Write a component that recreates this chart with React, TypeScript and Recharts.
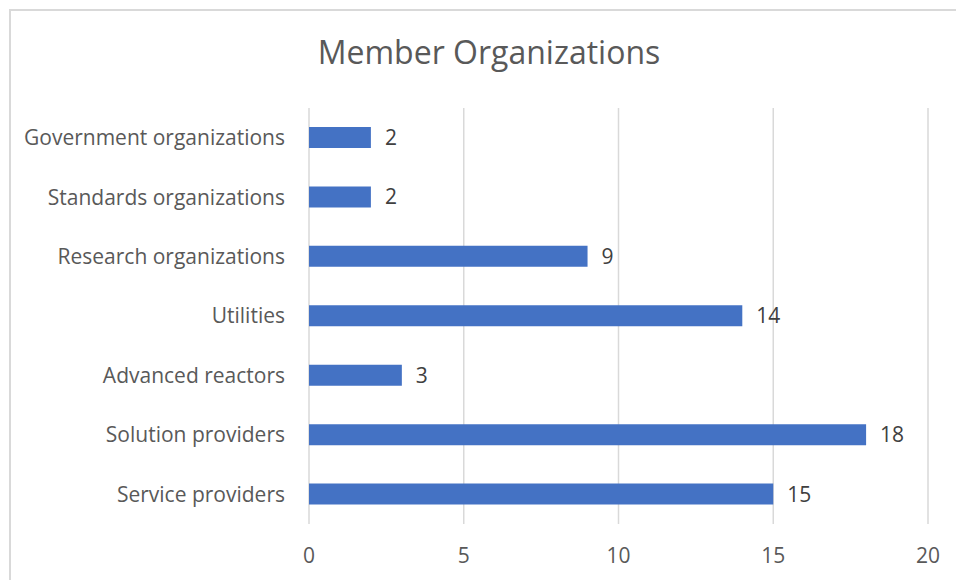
import { BarChart, Bar, XAxis, YAxis, CartesianGrid, LabelList } from 'recharts'

const categories = [
  'Government organizations',
  'Standards organizations',
  'Research organizations',
  'Utilities',
  'Advanced reactors',
  'Solution providers',
  'Service providers',
]
const members = [2, 2, 9, 14, 3, 18, 15]
const xTicks = [0, 5, 10, 15, 20]

const data = categories.map((name, i) => ({ name, value: members[i] }))

const FONT = '"Open Sans", sans-serif'

export default function App() {
  return (
    <div
      style={{
        position: 'fixed',
        left: 0,
        top: 0,
        width: 956,
        height: 580,
        overflow: 'hidden',
        background: '#fff',
        fontFamily: FONT,
      }}
    >
      {/* chart frame, only top and left edges are visible */}
      <div
        style={{
          position: 'absolute',
          left: 9,
          top: 9,
          width: 1200,
          height: 1200,
          border: '2px solid #d9d9d9',
        }}
      />
      <div
        style={{
          position: 'absolute',
          left: 0,
          width: 978,
          top: 33,
          textAlign: 'center',
          fontSize: 32,
          color: '#595959',
          lineHeight: '38px',
        }}
      >
        Member Organizations
      </div>
      <div style={{ position: 'absolute', left: 0, top: 0 }}>
        <BarChart
          width={956}
          height={580}
          data={data}
          layout="vertical"
          margin={{ top: 108, right: 28, bottom: 0, left: 0 }}
          barCategoryGap="32%"
        >
          <CartesianGrid horizontal={false} stroke="#d9d9d9" strokeWidth={1.5} />
          <XAxis
            type="number"
            domain={[0, 20]}
            ticks={xTicks}
            axisLine={false}
            tickLine={false}
            tickSize={0}
            tickMargin={24}
            height={56}
            tick={{ fill: '#595959', fontSize: 21, fontFamily: FONT }}
          />
          <YAxis
            type="category"
            dataKey="name"
            width={309}
            axisLine={false}
            tickLine={false}
            tickSize={0}
            tickMargin={24}
            tick={{ fill: '#595959', fontSize: 21, fontFamily: FONT }}
          />
          <Bar dataKey="value" fill="#4472c4" isAnimationActive={false}>
            <LabelList
              dataKey="value"
              position="right"
              offset={14}
              fill="#404040"
              fontSize={21}
              fontFamily={FONT}
            />
          </Bar>
        </BarChart>
      </div>
    </div>
  )
}
